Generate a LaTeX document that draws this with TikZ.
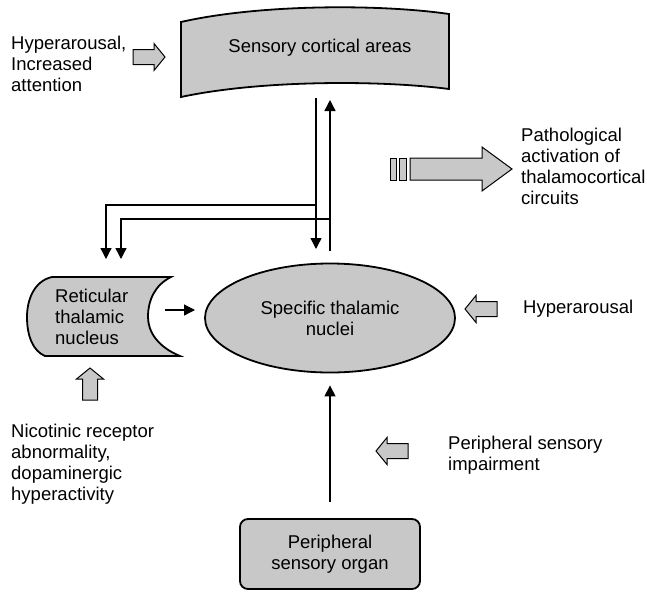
\documentclass[tikz,border=0pt]{standalone}
\usepackage{fontspec}
\setmainfont{Liberation Sans}
\usetikzlibrary{positioning,arrows.meta,calc,shapes.geometric}
\definecolor{hatch}{HTML}{C8C8C8}

\begin{document}
\begin{tikzpicture}[x=1pt, y=-1pt,
  lbl/.style={align=left, inner sep=0pt, font=\fontsize{18.5}{21}\selectfont},
  shp/.style={draw, line width=1.8pt, fill=hatch},
  arr/.style={-{Triangle[length=11pt, width=11pt]}, line width=1.3pt},
  blk/.pic={\draw[line width=1pt, fill=hatch]
    (0,-7.5) -- (21,-7.5) -- (21,-13.5) -- (32,0) -- (21,13.5) -- (21,7.5) -- (0,7.5) -- cycle;}
]
\useasboundingbox (0,0) rectangle (647,592);

% --- sensory cortex (curved banner) ---
\draw[shp] (181,22) .. controls (260,4) and (380,4) .. (449,14) -- (449,89)
  .. controls (380,80) and (260,80) .. (181,97) -- cycle;
\node[lbl] (sca) at (320,48) {Sensory cortical areas};

% --- specific nuclei ---
\node[shp, ellipse, lbl, align=center, minimum width=250pt, minimum height=109pt]
  (stn) at (330,318) {Specific thalamic\\nuclei};

% --- reticular nucleus ---
\draw[shp] (171,277) -- (52,277) .. controls (34,281) and (27,300) .. (27,317)
  .. controls (27,336) and (33,351) .. (45,356) -- (180,356)
  .. controls (158,347) and (148,332) .. (148,317)
  .. controls (148,300) and (155,285) .. (171,277) -- cycle;
\node[lbl, anchor=west] (rtn) at (55,317) {Reticular\\thalamic\\nucleus};

% --- sense organ ---
\node[shp, rounded corners=8pt, lbl, align=center, minimum width=180pt, minimum height=70pt]
  (pso) at (330,554) {Peripheral\\sensory organ};

% --- thalamocortical loop ---
\coordinate (dn-top) at (316,98);
\coordinate (dn-bot) at (316,249);
\coordinate (up-bot) at (330,251);
\coordinate (up-top) at (330,100);
\coordinate (j1) at (316,205);
\coordinate (j2) at (330,219);
\coordinate (t1) at (106,259);
\coordinate (t2) at (121,259);
\draw[arr] (dn-top) -- (dn-bot);
\draw[arr] (up-bot) -- (up-top);
\draw[arr] (j1) -| (t1);
\draw[arr] (j2) -| (t2);

\coordinate (r-out) at (165,310);
\coordinate (r-in) at (195,310);
\draw[arr] (r-out) -- (r-in);

\coordinate (p-out) at ($(pso.north)+(0,-16)$);
\coordinate (p-in) at ($(stn.south)+(0,12)$);
\draw[arr] (p-out) -- (p-in);

% --- influences ---
\pic at (133,57) {blk};
\node[lbl, anchor=west] (hyp1) at (11,64) {Hyperarousal,\\Increased\\attention};

\draw[line width=1pt, fill=hatch] (390,158) rectangle (396,180);
\draw[line width=1pt, fill=hatch] (399,158) rectangle (406,180);
\draw[line width=1pt, fill=hatch] (410,158) -- (482,158) -- (482,147) -- (512,169)
  -- (482,191) -- (482,180) -- (410,180) -- cycle;
\node[lbl, anchor=west] (path) at (521,166)
  {Pathological\\activation of\\thalamocortical\\circuits};

\pic[rotate=180] at (497,309) {blk};
\node[lbl, anchor=west] (hyp2) at (523,309) {Hyperarousal};

\pic[rotate=180] at (408,451) {blk};
\node[lbl, anchor=west] (psi) at (448,455) {Peripheral sensory\\impairment};

\pic[rotate=90] at (90,400) {blk};
\node[lbl, anchor=west] (nic) at (11,464)
  {Nicotinic receptor\\abnormality,\\dopaminergic\\hyperactivity};

\end{tikzpicture}
\end{document}
